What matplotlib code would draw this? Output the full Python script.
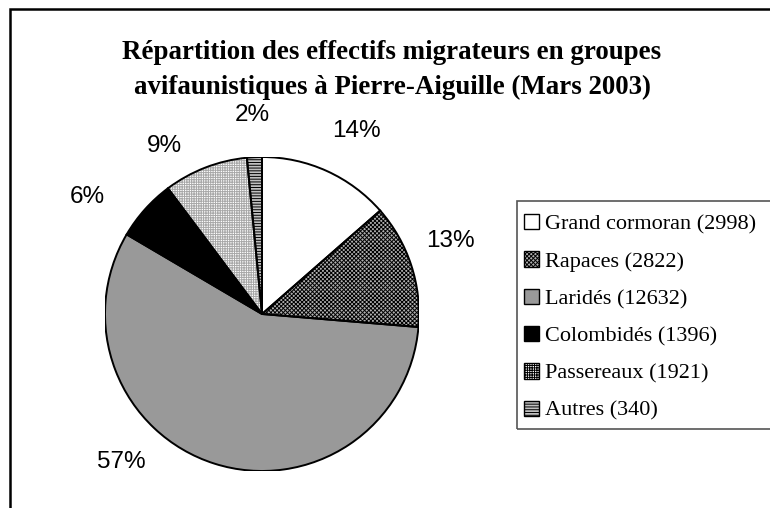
import numpy as np
import matplotlib.pyplot as plt
from matplotlib.patches import Rectangle, Wedge

# chart data
groups = ['Grand cormoran', 'Rapaces', 'Laridés', 'Colombidés', 'Passereaux', 'Autres']
counts = [2998, 2822, 12632, 1396, 1921, 340]
title = 'Répartition des effectifs migrateurs en groupes\navifaunistiques à Pierre-Aiguille (Mars 2003)'

# styles (Excel-like grey fills and patterns)
face_colors = ['white', '#b0b0b0', '#999999', 'black', 'white', '#c0c0c0']
hatches = [None, 'xxxxxxxx', None, None, '+++++++', '------']
hatch_colors = [None, 'black', None, None, '#a8a8a8', 'black']
label_dist = [1.31, 1.29, 1.30, 1.34, 1.24, 1.27]
label_nudge = [-3, 3, -26, 8, 9, 0]

plt.rcParams['hatch.linewidth'] = 0.7

W, H = 770, 508
fig = plt.figure(figsize=(W / 100, H / 100), dpi=100)
fig.patches.append(Rectangle((10 / W, -0.05), 1.1, 1 - 9 / H + 0.05, transform=fig.transFigure,
                             fill=False, edgecolor='black', linewidth=1.8))

# pie axes
cx, cy, r = 262, 314, 157
ax = fig.add_axes([(cx - r) / W, (H - cy - r) / H, 2 * r / W, 2 * r / H])
wedges, _ = ax.pie(counts, startangle=90, counterclock=False, colors=face_colors,
                   wedgeprops=dict(linewidth=0))
for w, h, hc in zip(wedges, hatches, hatch_colors):
    if h:
        ax.add_patch(Wedge((0, 0), 1, w.theta1, w.theta2, fill=False, hatch=h,
                           edgecolor=hc, linewidth=0, zorder=2))
    ax.add_patch(Wedge((0, 0), 1, w.theta1, w.theta2, fill=False,
                       edgecolor='black', linewidth=1.4, zorder=3))
ax.set_xlim(-1, 1)
ax.set_ylim(-1, 1)
ax.axis('off')

total = sum(counts)
for w, v, d, n in zip(wedges, counts, label_dist, label_nudge):
    ang = np.deg2rad((w.theta1 + w.theta2) / 2 + n)
    ax.text(d * np.cos(ang), d * np.sin(ang), f'{round(100 * v / total):.0f}%',
            ha='center', va='center', fontsize=17.5, family='Liberation Sans', clip_on=False)

fig.text(392 / W, 1 - 70 / H, title, ha='center', va='center', fontsize=19.4,
         fontweight='bold', family='Liberation Serif', linespacing=1.5)

# legend box (runs off the right edge like the original)
fig.patches.append(Rectangle((517 / W, 1 - 429 / H), 0.5, 228 / H, transform=fig.transFigure,
                             fill=False, edgecolor='#555555', linewidth=1.2))
handles = [Rectangle((0, 0), 1, 1, facecolor=fc, hatch=h, edgecolor='black', linewidth=1)
           for fc, h in zip(face_colors, hatches)]
leg = fig.legend(handles, [f'{g} ({c})' for g, c in zip(groups, counts)],
                 loc='upper left', bbox_to_anchor=(524 / W, 1 - 214 / H),
                 prop={'family': 'Liberation Serif', 'size': 16},
                 frameon=False, handlelength=0.68, handleheight=0.68, handletextpad=0.25,
                 labelspacing=0.76, borderpad=0, borderaxespad=0)

fig.savefig('out.png', dpi=100)
